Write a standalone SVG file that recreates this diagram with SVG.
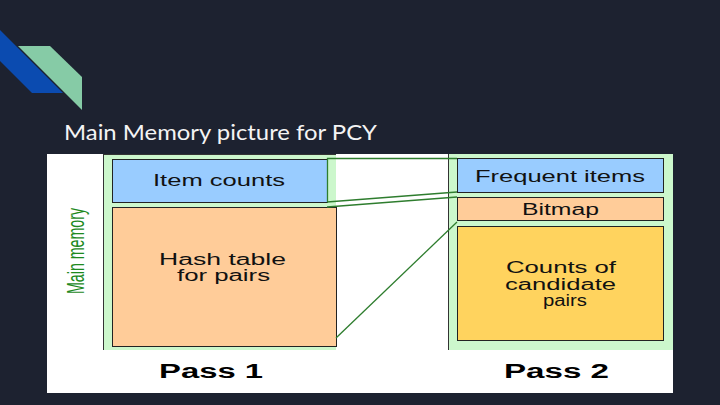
<svg xmlns="http://www.w3.org/2000/svg" width="720" height="405" viewBox="0 0 720 405">
<style>
.box{stroke:#222;stroke-width:1}
.lbl{font-family:"Liberation Sans",Arial,sans-serif;font-size:16px;fill:#111;text-anchor:start}
.pass{font-family:"Liberation Sans",Arial,sans-serif;font-size:20px;font-weight:bold;fill:#000}
.conn{stroke:#2e7d2e;stroke-width:1.3;fill:none}
.frame{stroke:#333;stroke-width:1}
</style>
<rect width="720" height="405" fill="#1d2230"/>
<g id="logo">
<polygon points="0,30 63,93 32,93 0,61" fill="#0b4bb0"/>
<polygon points="18,46 50,46 82,77 82,110" fill="#86cba6"/>
</g>
<text id="title" x="64" y="140" font-family="Lato,'Open Sans',sans-serif" font-size="21" fill="#f4f4f4" textLength="313" lengthAdjust="spacingAndGlyphs">Main Memory picture for PCY</text>
<rect x="47" y="154" width="626" height="239" fill="#ffffff"/>
<text id="mainmem" transform="translate(84,294) rotate(-90)" font-family="'Liberation Sans',Arial,sans-serif" font-size="24" fill="#1e8a1e" textLength="86" lengthAdjust="spacingAndGlyphs">Main memory</text>
<g id="pass1">
<rect x="103" y="154" width="233" height="196" fill="#ccf7cc"/>
<line class="frame" x1="103.5" y1="154" x2="103.5" y2="350"/>
<line class="frame" x1="103" y1="154.5" x2="336" y2="154.5"/>
<text class="pass" x="159" y="378" textLength="104" lengthAdjust="spacingAndGlyphs">Pass 1</text>
</g>
<g id="itemcounts">
<rect class="box" x="112.5" y="159.5" width="215" height="43" fill="#99ccff"/>
<text class="lbl" x="153" y="186" textLength="132" lengthAdjust="spacingAndGlyphs">Item counts</text>
</g>
<g id="hashtable">
<rect class="box" x="112.5" y="207.5" width="224" height="139" fill="#ffcc99"/>
<text class="lbl" x="159" y="265" textLength="127" lengthAdjust="spacingAndGlyphs">Hash table</text>
<text class="lbl" x="177" y="281" textLength="93" lengthAdjust="spacingAndGlyphs">for pairs</text>
</g>
<g id="pass2">
<rect x="448" y="154" width="225" height="196" fill="#ccf7cc"/>
<line class="frame" x1="448.5" y1="154" x2="448.5" y2="350"/>
<text class="pass" x="504" y="378" textLength="105" lengthAdjust="spacingAndGlyphs">Pass 2</text>
</g>
<g id="frequent">
<rect class="box" x="457.5" y="158.5" width="206" height="34" fill="#99ccff"/>
<text class="lbl" x="475" y="182" textLength="170" lengthAdjust="spacingAndGlyphs">Frequent items</text>
</g>
<g id="bitmap">
<rect class="box" x="457.5" y="197.5" width="206" height="23" fill="#ffcc99"/>
<text class="lbl" x="522" y="215" textLength="77" lengthAdjust="spacingAndGlyphs">Bitmap</text>
</g>
<g id="counts">
<rect class="box" x="457.5" y="226.5" width="206" height="114" fill="#ffd35e"/>
<text class="lbl" x="506" y="273" textLength="110" lengthAdjust="spacingAndGlyphs">Counts of</text>
<text class="lbl" x="505" y="290" textLength="111" lengthAdjust="spacingAndGlyphs">candidate</text>
<text class="lbl" x="543" y="306" textLength="44" lengthAdjust="spacingAndGlyphs">pairs</text>
</g>
<g id="connectors">
<polyline class="conn" points="457,158.5 327.5,158.5 327.5,202"/>
<line class="conn" x1="327" y1="202" x2="457" y2="192"/>
<line class="conn" x1="327" y1="207" x2="457" y2="197"/>
<line class="conn" x1="336" y1="338" x2="457" y2="222"/>
</g>
</svg>
